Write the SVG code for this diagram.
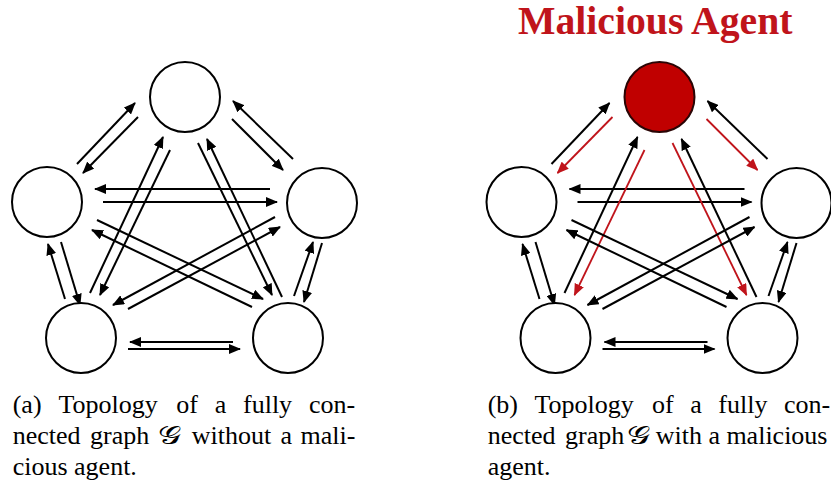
<svg xmlns="http://www.w3.org/2000/svg" width="831" height="483" viewBox="0 0 831 483">
<style>
  .node { fill: #ffffff; stroke: #000000; stroke-width: 2; }
  .mal { fill: #C00000; stroke: #2a0505; stroke-width: 2; }
  .edge { stroke: #000000; stroke-width: 2; fill: none; marker-end: url(#ah); }
  .red { stroke: #C0141B; stroke-width: 1.8; fill: none; marker-end: url(#ahr); }
  .cap { font-family: "Liberation Serif", "Times New Roman", serif; font-size: 26px; fill: #000000; }
  .scr { font-family: "DejaVu Serif", "DejaVu Sans", "Noto Sans", serif; font-size: 25px; fill: #000000; }
  .title { font-family: "Liberation Serif", "Times New Roman", serif; font-size: 39.7px; font-weight: bold; fill: #C0141B; }
</style>
<defs>
  <marker id="ah" markerUnits="userSpaceOnUse" markerWidth="12" markerHeight="10" viewBox="0 0 12 10" refX="11" refY="5" orient="auto">
    <path d="M0,0 L12,5 L0,10 z" fill="#000000"/>
  </marker>
  <marker id="ahr" markerUnits="userSpaceOnUse" markerWidth="12" markerHeight="10" viewBox="0 0 12 10" refX="11" refY="5" orient="auto">
    <path d="M0,0 L12,5 L0,10 z" fill="#C0141B"/>
  </marker>
</defs>
<rect x="0" y="0" width="831" height="483" fill="#ffffff"/>

<!-- Graph (a) -->
<g id="connectors-a">
  <line class="edge" x1="77" y1="164" x2="135" y2="103"/>
  <line class="edge" x1="138" y1="117" x2="83" y2="173"/>
  <line class="edge" x1="293" y1="159" x2="233" y2="101"/>
  <line class="edge" x1="232" y1="119" x2="283" y2="170"/>
  <line class="edge" x1="270" y1="189" x2="95" y2="189"/>
  <line class="edge" x1="103" y1="202" x2="277" y2="202"/>
  <line class="edge" x1="90" y1="293" x2="163" y2="137"/>
  <line class="edge" x1="170" y1="150" x2="100" y2="295"/>
  <line class="edge" x1="198" y1="143" x2="272" y2="295"/>
  <line class="edge" x1="282" y1="297" x2="207" y2="139"/>
  <line class="edge" x1="97" y1="220" x2="263" y2="299"/>
  <line class="edge" x1="252" y1="307" x2="92" y2="230"/>
  <line class="edge" x1="275" y1="217" x2="113" y2="305"/>
  <line class="edge" x1="128" y1="309" x2="280" y2="227"/>
  <line class="edge" x1="65" y1="299" x2="48" y2="244"/>
  <line class="edge" x1="61" y1="242" x2="80" y2="305"/>
  <line class="edge" x1="294" y1="296" x2="313" y2="242"/>
  <line class="edge" x1="322" y1="243" x2="304" y2="302"/>
  <line class="edge" x1="233" y1="342" x2="130" y2="342"/>
  <line class="edge" x1="128" y1="349" x2="240" y2="349"/>
</g>
<g id="a-top"><circle class="node" cx="185" cy="97" r="35"/></g>
<g id="a-left"><circle class="node" cx="47" cy="202" r="35"/></g>
<g id="a-right"><circle class="node" cx="322" cy="203" r="35"/></g>
<g id="a-bottom-left"><circle class="node" cx="81" cy="338" r="35"/></g>
<g id="a-bottom-right"><circle class="node" cx="288" cy="338" r="35"/></g>

<!-- Graph (b) -->
<text class="title" x="518" y="33.5">Malicious Agent</text>
<g id="connectors-b" transform="translate(474.5,0)">
  <line class="edge" x1="77" y1="164" x2="135" y2="103"/>
  <line class="red" x1="138" y1="117" x2="83" y2="173"/>
  <line class="edge" x1="293" y1="159" x2="233" y2="101"/>
  <line class="red" x1="232" y1="119" x2="283" y2="170"/>
  <line class="edge" x1="270" y1="189" x2="95" y2="189"/>
  <line class="edge" x1="103" y1="202" x2="277" y2="202"/>
  <line class="edge" x1="90" y1="293" x2="163" y2="137"/>
  <line class="red" x1="170" y1="150" x2="100" y2="295"/>
  <line class="red" x1="198" y1="143" x2="272" y2="295"/>
  <line class="edge" x1="282" y1="297" x2="207" y2="139"/>
  <line class="edge" x1="97" y1="220" x2="263" y2="299"/>
  <line class="edge" x1="252" y1="307" x2="92" y2="230"/>
  <line class="edge" x1="275" y1="217" x2="113" y2="305"/>
  <line class="edge" x1="128" y1="309" x2="280" y2="227"/>
  <line class="edge" x1="65" y1="299" x2="48" y2="244"/>
  <line class="edge" x1="61" y1="242" x2="80" y2="305"/>
  <line class="edge" x1="294" y1="296" x2="313" y2="242"/>
  <line class="edge" x1="322" y1="243" x2="304" y2="302"/>
  <line class="edge" x1="233" y1="342" x2="130" y2="342"/>
  <line class="edge" x1="128" y1="349" x2="240" y2="349"/>
</g>
<g id="b-top-malicious"><circle class="mal" cx="659.5" cy="97" r="35"/></g>
<g id="b-left"><circle class="node" cx="521.5" cy="202" r="35"/></g>
<g id="b-right"><circle class="node" cx="796.5" cy="203" r="35"/></g>
<g id="b-bottom-left"><circle class="node" cx="555.5" cy="338" r="35"/></g>
<g id="b-bottom-right"><circle class="node" cx="762.5" cy="338" r="35"/></g>

<!-- Captions -->
<text class="cap" y="413"><tspan x="12.7">(a)</tspan><tspan x="58.4">Topology</tspan><tspan x="176.2">of</tspan><tspan x="214.7">a</tspan><tspan x="243">fully</tspan><tspan x="308.9">con-</tspan></text>
<text class="cap" y="444"><tspan x="12.7">nected</tspan><tspan x="90">graph</tspan><tspan x="191.7">without</tspan><tspan x="280.5">a</tspan><tspan x="300.5">mali-</tspan></text>
<text class="scr" transform="translate(158,444) scale(1.3,1)">𝒢</text>
<text class="cap" x="12.7" y="475">cious agent.</text>

<text class="cap" y="413"><tspan x="487.7">(b)</tspan><tspan x="534.5">Topology</tspan><tspan x="652.1">of</tspan><tspan x="690.3">a</tspan><tspan x="718.3">fully</tspan><tspan x="783.9">con-</tspan></text>
<text class="cap" y="444"><tspan x="487.7">nected</tspan><tspan x="565">graph</tspan><tspan x="655.7">with</tspan><tspan x="708.4">a</tspan><tspan x="726.4">malicious</tspan></text>
<text class="scr" transform="translate(627,444) scale(1.3,1)">𝒢</text>
<text class="cap" x="487.7" y="475">agent.</text>
</svg>
